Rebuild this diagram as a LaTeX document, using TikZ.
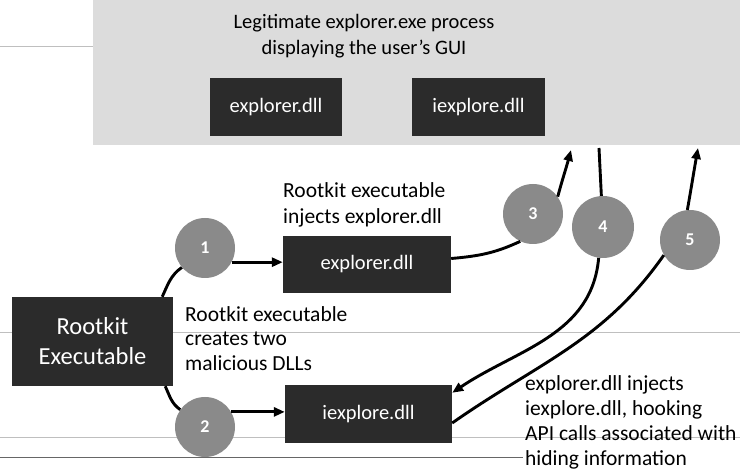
\documentclass[tikz,border=0pt]{standalone}
\usepackage{fontspec}
\setmainfont{Carlito}
\usetikzlibrary{arrows.meta}
\definecolor{boxgray}{HTML}{2B2B2B}
\definecolor{ballgray}{HTML}{8A8A8A}
\definecolor{procgray}{HTML}{DCDCDC}
\begin{document}
\begin{tikzpicture}[x=1pt,y=1pt,
  dllbox/.style={fill=boxgray, text=white, inner sep=0pt, font=\fontsize{20.5}{24}\selectfont},
  num/.style={circle, fill=ballgray, text=white, inner sep=0pt, minimum size=60pt,
    font=\fontsize{18}{18}\selectfont\bfseries},
  link/.style={line width=2.9pt, black},
  arr/.style={link, -{Triangle[length=11pt,width=9pt]}},
  note/.style={align=left, anchor=north west, inner sep=0pt},
  scanline/.style={black!25, line width=0.6pt}]

\useasboundingbox (0,0) rectangle (740,-470);
\fill[white] (0,0) rectangle (740,-470);

% process area
\fill[procgray] (93,0) rectangle (740,-145);

% ruled lines of the page
\draw[scanline] (0,-46) -- (93,-46);
\draw[scanline] (0,-332) -- (740,-332);
\draw[scanline] (0,-437) -- (740,-437);
\draw[black!60, line width=0.8pt] (0,-457) -- (523,-457);

% title
\node[align=center, anchor=north, inner sep=0pt, font=\fontsize{20.5}{26}\selectfont] (title)
  at (364,-14) {Legitimate explorer.exe process\\displaying the user's GUI};

% DLL boxes
\node[dllbox, minimum width=132pt, minimum height=58pt] (topexp) at (276,-107) {explorer.dll};
\node[dllbox, minimum width=133pt, minimum height=58pt] (topiexp) at (478.5,-107) {iexplore.dll};
\node[dllbox, minimum width=168pt, minimum height=57pt] (midexp) at (367,-264.5) {explorer.dll};
\node[dllbox, minimum width=167pt, minimum height=58pt] (botiexp) at (368.5,-414) {iexplore.dll};
\node[dllbox, align=center, minimum width=161pt, minimum height=89pt,
  font=\fontsize{24.5}{30}\selectfont] (rootkit) at (92.5,-341.5) {Rootkit\\Executable};

% step markers
\node[num] (c1) at (205,-248) {1};
\node[num] (c2) at (205,-427) {2};
\node[num] (c3) at (533,-214) {3};
\node[num, minimum size=62pt] (c4) at (603,-227) {4};
\node[num] (c5) at (690,-240) {5};

% free ends below the process area
\coordinate (t3) at (571,-150);
\coordinate (t4) at (599,-148);
\coordinate (t5) at (698,-148);

% captions
\node[note, font=\fontsize{21.5}{26}\selectfont] (cap1) at (283,-182)
  {Rootkit executable\\injects explorer.dll};
\node[note, font=\fontsize{21.5}{24.5}\selectfont] (cap2) at (185,-306)
  {Rootkit executable\\creates two\\malicious DLLs};
\node[note, font=\fontsize{21.5}{25}\selectfont] (cap3) at (525,-375)
  {explorer.dll injects\\iexplore.dll, hooking\\API calls associated with\\hiding information};

% connectors
\draw[link] ([xshift=-11pt]rootkit.north east) to[out=65,in=215] (c1.220);
\draw[arr] (c1.-28) -- (c1.-28 -| midexp.west);
\draw[link] ([xshift=-8pt]rootkit.south east) to[out=-65,in=145] (c2.145);
\draw[arr] (c2.30) -- (c2.30 -| botiexp.west);

\draw[link] ([yshift=6pt]midexp.east) to[out=5,in=205] (c3.245);
\draw[arr] (c3.35) to[out=75,in=-105] (t3);

\draw[link] (t4) -- (c4.93);
\draw[arr] (c4.262) to[out=-95,in=34] ([yshift=-8pt]botiexp.north east);

\draw[link] ([yshift=-9pt]botiexp.east) to[out=35,in=235] (c5.210);
\draw[arr] (c5.95) to[out=80,in=-100] (t5);
\end{tikzpicture}
\end{document}
